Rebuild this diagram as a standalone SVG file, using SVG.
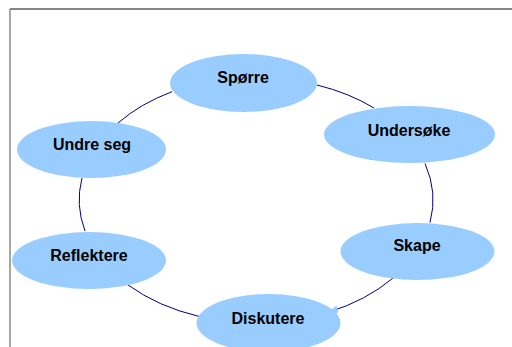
<svg xmlns="http://www.w3.org/2000/svg" width="512" height="347" viewBox="0 0 512 347">
<style>
.node ellipse{fill:#99ccff;stroke:none}
.node text{font-family:"Liberation Sans",Arial,sans-serif;font-weight:bold;font-size:16px;fill:#000;text-anchor:middle}
.conn path{fill:none;stroke:#000080;stroke-width:1}
</style>
<defs>
<marker id="arr" markerUnits="userSpaceOnUse" markerWidth="12" markerHeight="10" refX="10" refY="4" orient="auto">
<path d="M0,0 L10,4 L0,8 Z" fill="#99ccff"/>
</marker>
</defs>
<rect x="0" y="0" width="512" height="347" fill="#fff"/>
<line x1="10" y1="9" x2="512" y2="9" stroke="#111" stroke-width="1.2"/>
<line x1="10" y1="9" x2="10" y2="347" stroke="#888" stroke-width="1.5"/>
<g id="connectors" class="conn">
<path d="M317,85 A177,123 0 0 1 374,108"/>
<path d="M425,163.5 A177,123 0 0 1 430,222.6"/>
<path d="M393,278 A177,123 0 0 1 328,312.4" marker-end="url(#arr)"/>
<path d="M199,316.4 A177,123 0 0 1 128,284.9"/>
<path d="M85,231 A177,123 0 0 1 82,178"/>
<path d="M118,123 A177,123 0 0 1 172,91.7"/>
</g>
<g id="spørre" class="node"><ellipse cx="243.5" cy="83" rx="73.5" ry="29"/><text x="243" y="83">Spørre</text></g>
<g id="undersøke" class="node"><ellipse cx="409.5" cy="134.5" rx="85.5" ry="28.5"/><text x="409" y="136">Undersøke</text></g>
<g id="undre-seg" class="node"><ellipse cx="91.5" cy="149.5" rx="74.5" ry="28.5"/><text x="92" y="150">Undre seg</text></g>
<g id="skape" class="node"><ellipse cx="417.5" cy="251.5" rx="77" ry="28.5"/><text x="417" y="251">Skape</text></g>
<g id="reflektere" class="node"><ellipse cx="89" cy="260.5" rx="77" ry="28.5"/><text x="89" y="261">Reflektere</text></g>
<g id="diskutere" class="node"><ellipse cx="268.5" cy="323" rx="72" ry="29"/><text x="268" y="324">Diskutere</text></g>
</svg>
